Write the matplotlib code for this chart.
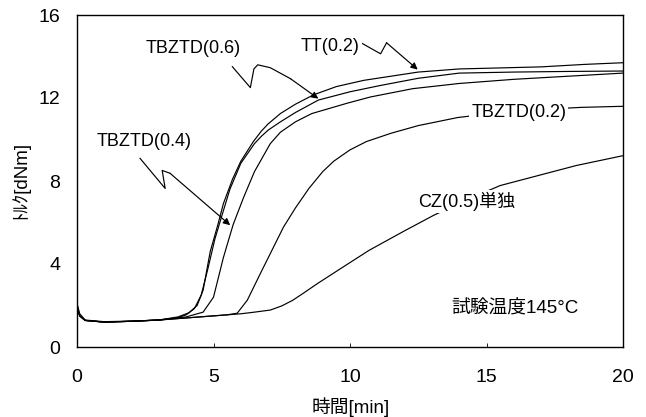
import matplotlib
matplotlib.use("Agg")
import matplotlib.pyplot as plt

plt.rcParams['font.family'] = ['Liberation Sans', 'Noto Sans CJK JP', 'DejaVu Sans']

# cure curves, time [min] vs torque [dNm]
tt02_t = [0, 0.1, 0.3, 1, 2, 3, 3.7, 4.1, 4.4, 4.62, 4.88, 5.14, 5.36, 5.7, 6.0, 6.46, 6.75, 7.0,
          7.45, 8.0, 8.66, 9.5, 10.5, 11.5, 12.5, 14, 15.5, 17, 18.6, 20]
tt02_v = [2.1, 1.6, 1.3, 1.22, 1.25, 1.3, 1.45, 1.65, 2.0, 2.74, 4.6, 5.8, 6.9, 8.1, 8.95, 9.9, 10.4, 10.75,
          11.25, 11.7, 12.15, 12.55, 12.85, 13.05, 13.25, 13.4, 13.45, 13.5, 13.62, 13.7]

tb06_t = [0, 0.1, 0.3, 1, 2, 3, 3.7, 4.0, 4.3, 4.55, 4.8, 5.05, 5.3, 5.6, 6.0, 6.5, 6.75, 7.0, 7.45,
          8.0, 8.84, 10, 11.1, 12.5, 14, 16, 18, 20]
tb06_v = [2.0, 1.5, 1.28, 1.2, 1.24, 1.3, 1.42, 1.55, 1.85, 2.5, 3.8, 5.2, 6.3, 7.6, 8.85, 9.8, 10.15, 10.45, 10.85,
          11.3, 11.9, 12.3, 12.6, 12.95, 13.2, 13.25, 13.28, 13.3]

tb04_t = [0, 0.1, 0.3, 1, 2, 3, 4.0, 4.62, 5.0, 5.36, 5.72, 6.1, 6.5, 7.08, 7.45, 8.0, 8.6, 9.9,
          10.75, 12.3, 14, 16, 18, 20]
tb04_v = [1.9, 1.5, 1.28, 1.2, 1.24, 1.3, 1.45, 1.68, 2.4, 4.3, 5.9, 7.2, 8.45, 9.8, 10.35, 10.85, 11.25, 11.75,
          12.05, 12.45, 12.7, 12.9, 13.05, 13.2]

tb02_t = [0, 0.1, 0.3, 1, 2, 3, 4, 5, 5.5, 5.87, 6.24, 6.72, 7.08, 7.56, 8.0, 8.5, 9.0, 9.4, 10.0, 10.6,
          11.5, 12.5, 13.95, 15.5, 17, 18.5, 20]
tb02_v = [1.9, 1.5, 1.28, 1.2, 1.24, 1.3, 1.4, 1.5, 1.55, 1.63, 2.26, 3.55, 4.5, 5.77, 6.7, 7.65, 8.45, 8.95, 9.5, 9.9,
          10.3, 10.67, 11.06, 11.3, 11.45, 11.55, 11.6]

cz05_t = [0, 0.1, 0.3, 1, 2, 3, 4, 5, 6, 6.5, 7.08, 7.5, 7.9, 8.3, 8.8, 9.54, 10.7, 12, 13.07,
          14.2, 15.5, 17, 18.3, 20]
cz05_v = [1.9, 1.5, 1.28, 1.2, 1.24, 1.3, 1.4, 1.5, 1.6, 1.68, 1.78, 1.98, 2.25, 2.6, 3.05, 3.68, 4.66, 5.6, 6.35,
          7.05, 7.78, 8.3, 8.75, 9.22]

# labels: text, (t, v) centre, zigzag leader (last point = arrow tip or None)
labels = ["TBZTD(0.6)", "TT(0.2)", "TBZTD(0.4)", "TBZTD(0.2)", "CZ(0.5)単独"]
label_pos = [(4.26, 14.38), (9.28, 14.47), (2.46, 9.88), (16.18, 11.3), (14.28, 7.02)]
leaders = [
    [(5.69, 13.51), (6.35, 12.5), (6.48, 13.4), (6.62, 13.6), (7.08, 13.46), (7.82, 12.93), (8.84, 11.97)],
    [(10.46, 14.62), (11.12, 14.13), (11.34, 14.66), (12.48, 13.37)],
    [(2.31, 9.09), (3.23, 7.64), (3.12, 8.51), (3.41, 8.37), (5.61, 5.87)],
    None,
    None,
]
note = "試験温度145°C"
note_pos = (16.04, 1.83)

xticks = [0, 5, 10, 15, 20]
yticks = [0, 4, 8, 12, 16]


def main():
    fig = plt.figure(figsize=(6.46, 4.17), dpi=100)
    ax = fig.add_axes([77 / 646, 1 - 347 / 417, 546 / 646, 332 / 417])

    for t, v in [(cz05_t, cz05_v), (tb02_t, tb02_v), (tb04_t, tb04_v), (tb06_t, tb06_v), (tt02_t, tt02_v)]:
        ax.plot(t, v, color='black', lw=0.85, zorder=2)

    for text, pos, lead in zip(labels, label_pos, leaders):
        ax.text(pos[0], pos[1], text, fontsize=13, ha='center', va='center', zorder=5,
                bbox=dict(facecolor='white', edgecolor='none', pad=1.5))
        if lead is not None:
            xs = [p[0] for p in lead[:-1]]
            ys = [p[1] for p in lead[:-1]]
            ax.plot(xs, ys, color='black', lw=0.85, zorder=4)
            ax.annotate('', xy=lead[-1], xytext=lead[-2],
                        arrowprops=dict(arrowstyle='-|>', color='black', lw=0.85,
                                        mutation_scale=10, shrinkA=0, shrinkB=0), zorder=4)

    ax.text(note_pos[0], note_pos[1], note, fontsize=13.5, ha='center', va='center')

    ax.set_xlim(0, 20)
    ax.set_ylim(0, 16)
    ax.set_xticks(xticks)
    ax.set_yticks(yticks)
    ax.tick_params(axis='x', direction='in', length=3, pad=16, labelsize=14, width=0.6)
    ax.tick_params(axis='y', direction='in', length=0, pad=12, labelsize=14)
    for s in ax.spines.values():
        s.set_linewidth(1.0)

    fig.text(351 / 646, 1 - 407 / 417, "時間[min]", fontsize=13.5, ha='center', va='center')
    fig.text(20 / 646, 1 - 180 / 417, "ﾄﾙｸ[dNm]", fontsize=13.5, ha='center', va='center', rotation=90)

    fig.savefig("out.png", dpi=100)


if __name__ == "__main__":
    main()
